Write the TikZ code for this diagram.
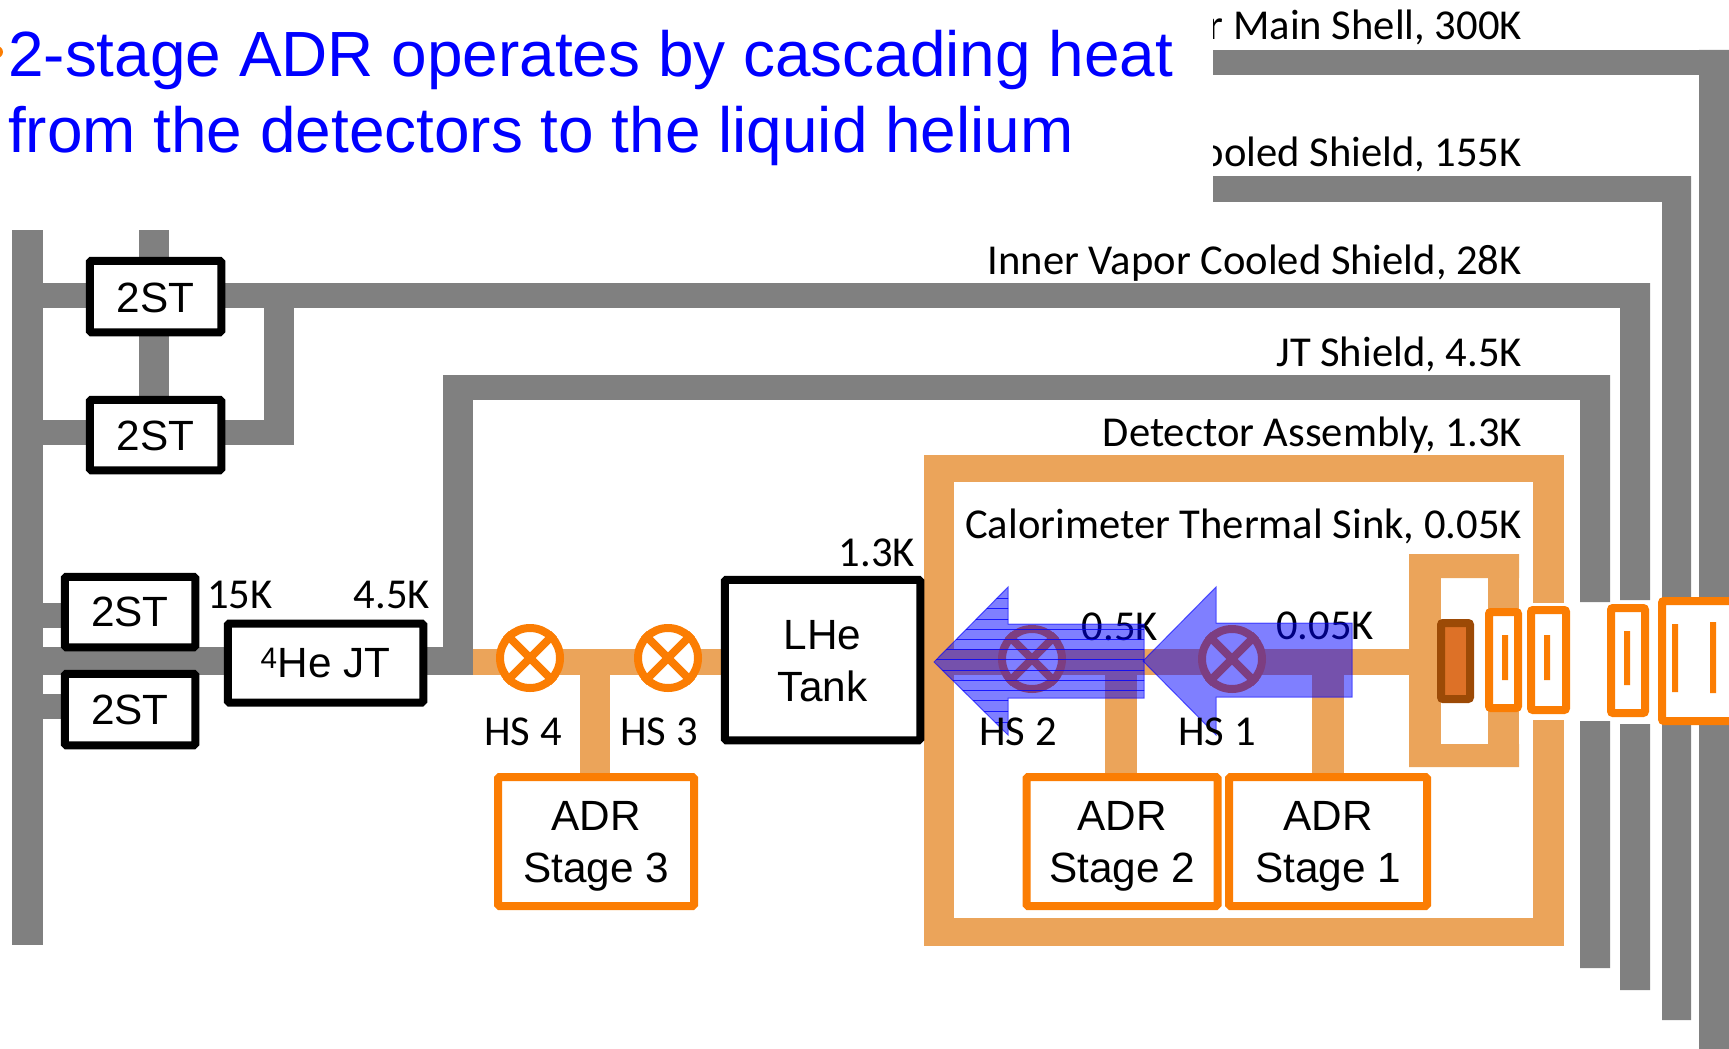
\documentclass[tikz,border=0pt]{standalone}
\usepackage{fontspec}
\setmainfont{Liberation Sans}
\newfontfamily\calib{Carlito}
\usetikzlibrary{backgrounds}
\definecolor{pipegray}{HTML}{808080}
\definecolor{paleor}{HTML}{EBA45A}
\definecolor{strongor}{HTML}{FB7D03}
\definecolor{titleblue}{HTML}{0000FF}
\definecolor{sinkedge}{HTML}{9C4A06}
\definecolor{sinkfill}{HTML}{DD7127}
\newcommand{\downby}[1]{\rule{0pt}{#1pt}}
\tikzset{
  grayfill/.style={fill=pipegray},
  orfill/.style={fill=paleor},
  grayp/.style={draw=pipegray,line width=#1},
  grayp/.default=25,
  orp/.style={draw=paleor,line width=#1},
  orp/.default=26,
  blackbox/.style={draw=black,fill=white,line width=8,rounded corners=1.5,inner sep=0,align=center,font=\fontsize{42.3}{52}\selectfont},
  orbox/.style={draw=strongor,fill=white,line width=8,rounded corners=1.5,inner sep=0,align=center,font=\fontsize{42.3}{52}\selectfont},
  valve/.style={circle,draw=strongor,fill=white,line width=8,minimum size=60,inner sep=0},
  valvex/.style={draw=strongor,line width=8},
  tick/.style={fill=strongor},
  smallbox/.style={draw=strongor,fill=white,line width=8,rounded corners=2,inner sep=0},
  lab/.style={font=\calib\fontsize{42.6}{50}\selectfont,inner sep=0,text=black},
  heatarrow/.style={fill=blue,fill opacity=.5,draw=blue,draw opacity=.6,line width=1},
  titletext/.style={font=\fontsize{63.9}{76}\selectfont,text=titleblue,inner sep=0}
}
\begin{document}
\begin{tikzpicture}[x=1pt,y=-1pt]
\useasboundingbox (0,0) rectangle (1729,1049);
% boxes
\node[blackbox,minimum width=131.5,minimum height=71.5] (st1) at (155.5,296.5) {\downby{32}2ST};
\node[blackbox,minimum width=131.5,minimum height=70.5] (st2) at (155.5,435) {\downby{31}2ST};
\node[blackbox,minimum width=130.5,minimum height=70.5] (st3) at (130,612) {2ST};
\node[blackbox,minimum width=130.5,minimum height=71.5] (st4) at (130,709.5) {2ST};
\node[blackbox,minimum width=195.5,minimum height=79] (jt) at (325.5,663) {\textsuperscript{4}He JT};
\node[blackbox,minimum width=195.5,minimum height=160.5] (tank) at (822.5,660) {\downby{32}LHe\\Tank};
\node[orbox,minimum width=196,minimum height=129] (adr3) at (596,841.5) {\downby{38}ADR\\Stage 3};
\node[orbox,minimum width=191,minimum height=129] (adr2) at (1122,841.5) {\downby{38}ADR\\Stage 2};
\node[orbox,minimum width=198,minimum height=129] (adr1) at (1328,841.5) {\downby{38}ADR\\Stage 1};
% valves
\node[valve] (hs4) at (530,658) {};
\node[valve] (hs3) at (668,658) {};
\node[valve] (hs2) at (1032,659) {};
\node[valve] (hs1) at (1232,659) {};
\foreach \v in {hs4,hs3,hs2,hs1}{\draw[valvex] (\v.north west) -- (\v.south east) (\v.north east) -- (\v.south west);}
% detector chain
\fill[paleor] (1409,554) rectangle (1519,578) (1409,744) rectangle (1519,767);
\fill[paleor] (1409,554) rectangle (1441,767);
\fill[paleor] (1488,554) rectangle (1519,767);
\node[smallbox,minimum width=29,minimum height=96] (b1) at (1503.5,660) {};
\node[smallbox,minimum width=35,minimum height=100] (b2) at (1548.5,660) {};
\node[smallbox,minimum width=34,minimum height=105] (b3) at (1628,660.5) {};
\node[smallbox,minimum width=90,minimum height=120] (b4) at (1707,661) {};
\node[draw=sinkedge,fill=sinkfill,line width=8,rounded corners=2,inner sep=0,minimum width=29,minimum height=76] (sink) at (1455.5,661) {};
\fill[tick] (1502,635) rectangle (1508,680) (1544,635) rectangle (1550,680) (1624,631) rectangle (1630,685) (1672,624) rectangle (1678,692) (1710,622) rectangle (1716,693);
\begin{pgfonlayer}{background}
% gray frames
\fill[grayfill] (12,230) rectangle (43,945);
\draw[grayp=30] (154,230) -- (st2.north -| 154,0);
\draw[grayp] (43,295.5) -- (st1.west |- 0,295.5);
\draw[grayp] (st1.east |- 0,295.5) -- (1650,295.5);
\draw[grayp] (43,432.5) -- (st2.west |- 0,432.5);
\draw[grayp] (st2.east |- 0,432.5) -- (294,432.5);
\fill[grayfill] (264,283) rectangle (294,445);
\draw[grayp] (43,615.5) -- (st3.west |- 0,615.5);
\draw[grayp] (43,706) -- (st4.west |- 0,706);
\draw[grayp=28] (43,661) -- (jt.west |- 0,661);
\draw[grayp=28] (jt.east |- 0,661) -- (473,661);
\fill[grayfill] (443,375) rectangle (473,675);
\fill[grayfill] (443,375) rectangle (1610,400);
\fill[grayfill] (1580,375) rectangle (1610,602) (1580,721) rectangle (1610,968);
\fill[grayfill] (1620,283) rectangle (1650,600) (1620,724) rectangle (1650,990);
\fill[grayfill] (1213,176) rectangle (1691,202);
\fill[grayfill] (1662,176) rectangle (1691,600) (1662,724) rectangle (1691,1020);
\fill[grayfill] (1213,50) rectangle (1729,75);
\fill[grayfill] (1699,50) rectangle (1729,597) (1699,725) rectangle (1729,1049);
% orange frames and pipes
\fill[orfill] (924,455) rectangle (1564,482);
\fill[orfill] (924,918) rectangle (1564,946);
\fill[orfill] (924,455) rectangle (954,946);
\fill[orfill] (1533,455) rectangle (1564,603);
\fill[orfill] (1533,720) rectangle (1564,946);
\draw[orp] (473,662) -- (tank.west |- 0,662);
\draw[orp] (954,662) -- (1409,662);
\draw[orp=30] (595,662) -- (adr3.north -| 595,0);
\draw[orp=32] (1121,662) -- (adr2.north -| 1121,0);
\draw[orp=32] (1328,662) -- (adr1.north -| 1328,0);
\end{pgfonlayer}
% labels under arrows
\node[lab,anchor=base east] (l05) at (1158,640) {0.5K};
\node[lab,anchor=base east] (l005) at (1374,639) {0.05K};
% heat arrows
\begin{scope}
\path[heatarrow] (934,662) -- (1008,587) -- (1008,624) -- (1144,624) -- (1144,698) -- (1008,698) -- (1008,735) -- cycle;
\clip (934,662) -- (1008,587) -- (1008,624) -- (1144,624) -- (1144,698) -- (1008,698) -- (1008,735) -- cycle;
\foreach \y in {598,608,619,629,639,649,659,670,680,690,700,711,722}{\draw[blue,line width=.8,opacity=.8] (930,\y) -- (1150,\y);}
\end{scope}
\path[heatarrow] (1143,661) -- (1216,587) -- (1216,623) -- (1352,623) -- (1352,697) -- (1216,697) -- (1216,735) -- cycle;
% labels
\begin{scope}
\clip (1213,0) rectangle (1729,210);
\node[lab,anchor=base east] (t300) at (1522,40) {r Main Shell, 300K};
\node[lab,anchor=base east] (t155) at (1522,166) {ooled Shield, 155K};
\end{scope}
\node[lab,anchor=base east] (t28) at (1522,274) {Inner Vapor Cooled Shield, 28K};
\node[lab,anchor=base east] (t45) at (1522,366) {JT Shield, 4.5K};
\node[lab,anchor=base east] (t13) at (1522,446) {Detector Assembly, 1.3K};
\node[lab,anchor=base east] (t005) at (1522,538) {Calorimeter Thermal Sink, 0.05K};
\node[lab,anchor=base east] (tt) at (915,566) {1.3K};
\node[lab,anchor=base west] (jt15) at (207,608) {15K};
\node[lab,anchor=base east] (jt45) at (430,608) {4.5K};
\node[lab,anchor=base] (n4) at (523,745) {HS 4};
\node[lab,anchor=base] (n3) at (659,745) {HS 3};
\node[lab,anchor=base] (n2) at (1018,745) {HS 2};
\node[lab,anchor=base] (n1) at (1217,745) {HS 1};
% title
\fill[strongor] (-3,52) circle (6);
\node[titletext,anchor=base west] (title1) at (8,77) {2-stage ADR operates by cascading heat};
\node[titletext,anchor=base west] (title2) at (8,152) {from the detectors to the liquid helium};
\end{tikzpicture}
\end{document}
